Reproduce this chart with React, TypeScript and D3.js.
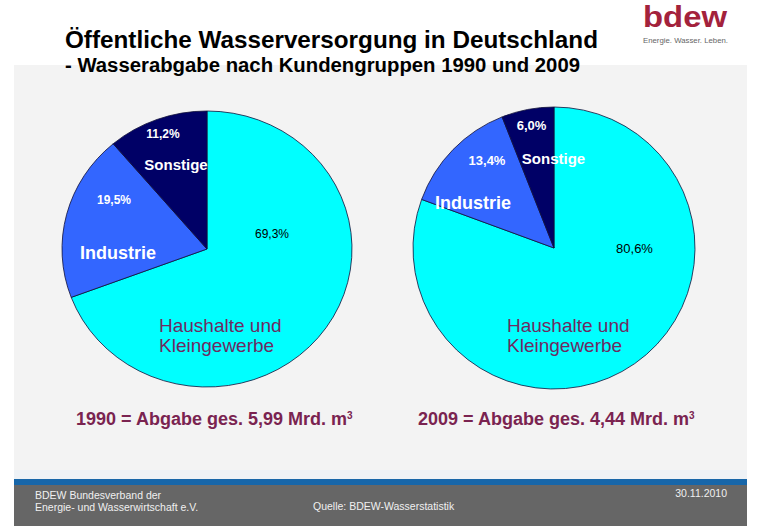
import React from "react";
import * as d3 from "d3";

// ---- data ----
const categories = ["Haushalte und Kleingewerbe", "Industrie", "Sonstige"];
const values1990 = [69.3, 19.5, 11.2];
const values2009 = [80.6, 13.4, 6.0];
const years = ["1990", "2009"];
const totals = ["5,99", "4,44"];
const titleText = "Öffentliche Wasserversorgung in Deutschland";
const subtitleText = "- Wasserabgabe nach Kundengruppen 1990 und 2009";
const footerLeft = ["BDEW Bundesverband der", "Energie- und Wasserwirtschaft e.V."];
const footerSource = "Quelle: BDEW-Wasserstatistik";
const footerDate = "30.11.2010";

// ---- style / layout ----
const W = 759;
const H = 532;
const FONT = "'Liberation Sans', Arial, Helvetica, sans-serif";
const sliceColors = ["#00FFFF", "#3366FF", "#000066"];
const purple = "#6E2A62";
const maroon = "#7A2350";

type PieLayout = {
  cx: number;
  cy: number;
  rx: number;
  ry: number;
  pct: [number, number][]; // offsets for percent labels
  pctSize: number;
  cat: [number, number][]; // offsets for category labels
  captionX: number;
};

const layouts: PieLayout[] = [
  {
    cx: 207, cy: 249, rx: 145, ry: 138,
    pct: [[65, -11], [-93, -45], [-44, -111]],
    pctSize: 12,
    cat: [[-48, 83], [-89, 10], [-31, -79]],
    captionX: 76,
  },
  {
    cx: 554, cy: 248, rx: 141, ry: 141,
    pct: [[80.5, 5], [-67, -83], [-22.5, -118]],
    pctSize: 13,
    cat: [[-47, 84], [-81, -39], [-0.5, -84]],
    captionX: 418,
  },
];

const fmtPct = (v: number) => d3.format(".1f")(v).replace(".", ",") + "%";

function Pie({ values, layout, year, total }: { values: number[]; layout: PieLayout; year: string; total: string }) {
  const pie = d3.pie<number>().sort(null).value((d) => d);
  const arcs = pie(values);
  const arc = d3.arc<d3.PieArcDatum<number>>().innerRadius(0).outerRadius(layout.ry);
  const sx = layout.rx / layout.ry;
  const { cx, cy } = layout;
  return (
    <g>
      <g transform={`translate(${cx},${cy}) scale(${sx},1)`}>
        {arcs.map((a, i) => (
          <path
            key={i}
            d={arc(a) || ""}
            fill={sliceColors[i]}
            stroke="#10103a"
            strokeWidth={0.8}
            vectorEffect="non-scaling-stroke"
          />
        ))}
      </g>
      {arcs.map((a, i) => (
        <text
          key={"p" + i}
          x={cx + layout.pct[i][0]}
          y={cy + layout.pct[i][1]}
          textAnchor="middle"
          fontFamily={FONT}
          fontSize={layout.pctSize}
          fontWeight={i === 0 ? "normal" : "bold"}
          fill={i === 0 ? "#000" : "#fff"}
        >
          {fmtPct(a.data)}
        </text>
      ))}
      {/* Category labels */}
      <text x={cx + layout.cat[0][0]} y={cy + layout.cat[0][1]} fontFamily={FONT} fontSize={19} fill={purple}>
        <tspan x={cx + layout.cat[0][0]}>Haushalte und</tspan>
        <tspan x={cx + layout.cat[0][0]} dy={20}>Kleingewerbe</tspan>
      </text>
      <text
        x={cx + layout.cat[1][0]}
        y={cy + layout.cat[1][1]}
        textAnchor="middle"
        fontFamily={FONT}
        fontSize={18}
        fontWeight="bold"
        fill="#fff"
      >
        {categories[1]}
      </text>
      <text
        x={cx + layout.cat[2][0]}
        y={cy + layout.cat[2][1]}
        textAnchor="middle"
        fontFamily={FONT}
        fontSize={15}
        fontWeight="bold"
        fill="#fff"
      >
        {categories[2]}
      </text>
      {/* caption */}
      <text x={layout.captionX} y={425} fontFamily={FONT} fontSize={18} fontWeight="bold" fill={maroon}>
        {`${year} = Abgabe ges. ${total} Mrd. m`}
        <tspan fontSize={10} dy={-6}>3</tspan>
      </text>
    </g>
  );
}

export default function App() {
  return (
    <svg
      width={W}
      height={H}
      viewBox={`0 0 ${W} ${H}`}
      style={{ position: "absolute", left: 0, top: 0, display: "block", background: "#fff" }}
    >
      <rect x={0} y={0} width={W} height={H} fill="#fff" />
      {/* gray content area */}
      <rect x={14} y={65} width={733} height={414} fill="#F3F3F3" />
      <rect x={14} y={470} width={733} height={9} fill="#EEF2F6" />
      {/* footer */}
      <rect x={14} y={479} width={733} height={6} fill="#1766A9" />
      <rect x={14} y={485} width={733} height={41} fill="#666666" />

      {/* title */}
      <text x={65} y={48} fontFamily={FONT} fontSize={24} fontWeight="bold" fill="#000" textLength={533} lengthAdjust="spacingAndGlyphs">
        {titleText}
      </text>
      <text x={65} y={72} fontFamily={FONT} fontSize={20} fontWeight="bold" fill="#000" textLength={515} lengthAdjust="spacingAndGlyphs">
        {subtitleText}
      </text>

      {/* logo */}
      <text x={643} y={27} fontFamily={FONT} fontSize={29} fontWeight="bold" fill="#A3223C" textLength={84} lengthAdjust="spacingAndGlyphs">
        bdew
      </text>
      <text x={643} y={43} fontFamily={FONT} fontSize={7.5} fill="#666" textLength={85} lengthAdjust="spacingAndGlyphs">
        Energie. Wasser. Leben.
      </text>

      <Pie values={values1990} layout={layouts[0]} year={years[0]} total={totals[0]} />
      <Pie values={values2009} layout={layouts[1]} year={years[1]} total={totals[1]} />

      {/* footer texts */}
      <text x={35} y={499} fontFamily={FONT} fontSize={10.5} fill="#F0F0F0">
        {footerLeft[0]}
      </text>
      <text x={35} y={511} fontFamily={FONT} fontSize={10.5} fill="#F0F0F0">
        {footerLeft[1]}
      </text>
      <text x={313} y={510} fontFamily={FONT} fontSize={10.5} fill="#F0F0F0">
        {footerSource}
      </text>
      <text x={727} y={497} textAnchor="end" fontFamily={FONT} fontSize={10.5} fill="#F0F0F0">
        {footerDate}
      </text>
    </svg>
  );
}
